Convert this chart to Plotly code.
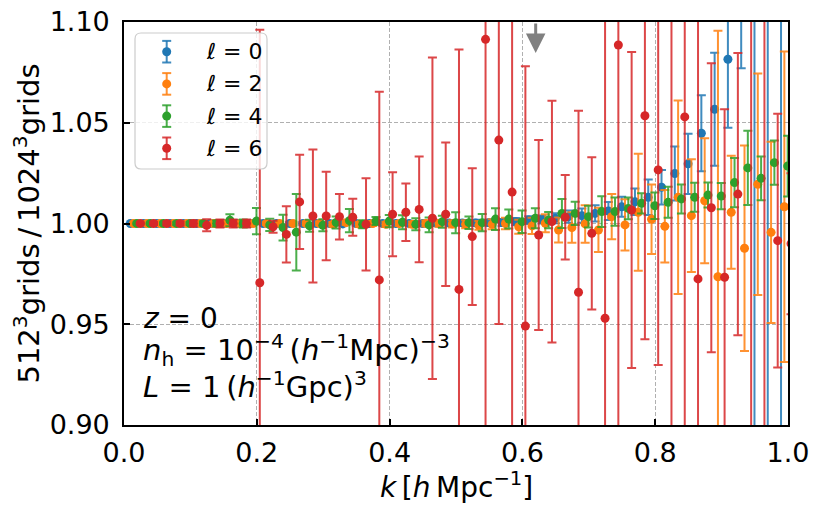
import plotly.graph_objects as go

# ---------------- data ----------------
# k-bin centres [h/Mpc]
k_bins = [0.01, 0.03, 0.05, 0.07, 0.09, 0.11, 0.13, 0.15, 0.17, 0.19,
          0.21, 0.23, 0.25, 0.27, 0.29, 0.31, 0.33, 0.35, 0.37, 0.39,
          0.41, 0.43, 0.45, 0.47, 0.49, 0.51, 0.53, 0.55, 0.57, 0.59,
          0.61, 0.63, 0.65, 0.67, 0.69, 0.71, 0.73, 0.75, 0.77, 0.79,
          0.81, 0.83, 0.85, 0.87, 0.89, 0.91, 0.93, 0.95, 0.97, 0.99]
# small horizontal dodge per multipole
k_shift = [-0.0005, 0.0045, 0.0095, 0.0145]
ells = [0, 2, 4, 6]

ratio_l0 = [1.0000, 1.0000, 1.0000, 1.0000, 1.0000, 1.0000, 1.0000, 1.0000, 1.0000, 1.0000,
            1.0000, 1.0000, 1.0000, 1.0000, 1.0000, 1.0000, 0.9998, 1.0000, 1.0000, 1.0000,
            1.0000, 1.0000, 1.0000, 1.0002, 1.0002, 1.0003, 1.0003, 1.0004, 1.0005, 1.0009,
            1.0017, 1.0020, 1.0026, 1.0034, 1.0039, 1.0050, 1.0062, 1.0083, 1.0108, 1.0130,
            1.0180, 1.0248, 1.0296, 1.0448, 1.0567, 1.0815, 1.1200, 1.1500, 0.8600, 1.1600]
err_l0 = [0.0003, 0.0003, 0.0003, 0.0004, 0.0004, 0.0004, 0.0005, 0.0005, 0.0005, 0.0006,
          0.0006, 0.0007, 0.0007, 0.0008, 0.0008, 0.0009, 0.0009, 0.0010, 0.0010, 0.0011,
          0.0011, 0.0012, 0.0012, 0.0013, 0.0013, 0.0014, 0.0015, 0.0016, 0.0017, 0.0018,
          0.0019, 0.0020, 0.0025, 0.0030, 0.0035, 0.0040, 0.0045, 0.0050, 0.0066, 0.0088,
          0.0086, 0.0134, 0.0150, 0.0189, 0.0281, 0.0340, 0.0430, 0.3000, 0.3000, 0.3500]

ratio_l2 = [1.0000, 1.0000, 1.0000, 1.0000, 1.0000, 1.0000, 1.0000, 1.0000, 1.0000, 1.0000,
            1.0000, 1.0000, 1.0000, 1.0000, 1.0000, 0.9996, 1.0004, 0.9996, 1.0000, 0.9996,
            1.0000, 0.9996, 1.0000, 1.0000, 0.9998, 0.9996, 0.9991, 0.9996, 1.0000, 0.9984,
            0.9988, 1.0001, 0.9968, 0.9980, 0.9998, 0.9968, 1.0034, 0.9993, 1.0056, 1.0021,
            0.9986, 1.0130, 1.0039, 1.0113, 0.9736, 1.0056, 0.9877, 1.0195, 0.9956, 1.0083]
err_l2 = [0.0004, 0.0004, 0.0005, 0.0005, 0.0005, 0.0006, 0.0006, 0.0007, 0.0007, 0.0008,
          0.0008, 0.0009, 0.0009, 0.0010, 0.0010, 0.0011, 0.0011, 0.0012, 0.0012, 0.0013,
          0.0013, 0.0014, 0.0015, 0.0016, 0.0018, 0.0020, 0.0022, 0.0025, 0.0028, 0.0035,
          0.0040, 0.0045, 0.0062, 0.0076, 0.0093, 0.0110, 0.0112, 0.0127, 0.0290, 0.0172,
          0.0180, 0.0480, 0.0280, 0.0310, 0.1220, 0.0280, 0.0510, 0.0550, 0.0450, 0.0770]

ratio_l4 = [1.0000, 1.0000, 1.0000, 1.0000, 1.0000, 1.0000, 1.0000, 1.0016, 1.0000, 1.0012,
            0.9993, 0.9980, 0.9957, 0.9989, 0.9991, 1.0005, 1.0014, 0.9996, 1.0012, 1.0012,
            1.0006, 0.9996, 0.9993, 1.0009, 1.0004, 1.0004, 1.0004, 1.0022, 1.0022, 1.0009,
            1.0026, 1.0017, 1.0050, 1.0050, 1.0034, 1.0059, 1.0059, 1.0075, 1.0100, 1.0088,
            1.0105, 1.0122, 1.0130, 1.0141, 1.0136, 1.0203, 1.0276, 1.0224, 1.0302, 1.0285]
err_l4 = [0.0005, 0.0005, 0.0006, 0.0007, 0.0008, 0.0010, 0.0015, 0.0030, 0.0020, 0.0065,
          0.0030, 0.0064, 0.0190, 0.0030, 0.0030, 0.0030, 0.0058, 0.0020, 0.0020, 0.0030,
          0.0035, 0.0030, 0.0037, 0.0030, 0.0052, 0.0031, 0.0043, 0.0054, 0.0047, 0.0056,
          0.0050, 0.0040, 0.0072, 0.0058, 0.0054, 0.0076, 0.0070, 0.0054, 0.0050, 0.0066,
          0.0077, 0.0072, 0.0072, 0.0062, 0.0065, 0.0122, 0.0184, 0.0109, 0.0110, 0.0151]

ratio_l6 = [1.0000, 1.0000, 1.0000, 1.0000, 1.0000, 0.9991, 1.0000, 1.0000, 1.0000, 0.9706,
            0.9984, 0.9946, 1.0107, 1.0037, 1.0037, 1.0034, 1.0031, 0.9996, 0.9720, 1.0046,
            1.0056, 1.0070, 1.0026, 1.0046, 0.9673, 0.9935, 1.0914, 1.0414, 1.0156, 0.9491,
            0.9943, 1.0009, 1.0031, 0.9659, 0.9951, 0.9530, 1.0886, 1.0067, 1.0535, 1.0266,
            1.1400, 1.0529, 0.9725, 1.0078, 0.9733, 1.0146, 0.8600, 1.1500, 0.9915, 0.9900]
err_l6 = [0.0005, 0.0008, 0.0010, 0.0010, 0.0015, 0.0030, 0.0020, 0.0020, 0.0020, 0.1255,
          0.0030, 0.0140, 0.0234, 0.0330, 0.0220, 0.0113, 0.0092, 0.0229, 0.0934, 0.0208,
          0.0143, 0.0262, 0.0798, 0.0356, 0.1190, 0.0339, 0.2100, 0.0913, 0.1400, 0.1290,
          0.0472, 0.0600, 0.0210, 0.0900, 0.0378, 0.1600, 0.2000, 0.0784, 0.1110, 0.0968,
          0.3000, 0.1700, 0.1400, 0.0717, 0.0834, 0.0700, 0.3000, 0.3000, 0.0630, 0.0350]

ratios = [ratio_l0, ratio_l2, ratio_l4, ratio_l6]
errors = [err_l0, err_l2, err_l4, err_l6]
colors = ["#1f77b4", "#ff7f0e", "#2ca02c", "#d62728"]
err_colors = ["rgba(31,119,180,0.85)", "rgba(255,127,14,0.85)",
              "rgba(44,160,44,0.85)", "rgba(214,39,40,0.85)"]

x_ticks = [0.0, 0.2, 0.4, 0.6, 0.8, 1.0]
x_ticklabels = ["0.0", "0.2", "0.4", "0.6", "0.8", "1.0"]
y_ticks = [0.90, 0.95, 1.00, 1.05, 1.10]
y_ticklabels = ["0.90", "0.95", "1.00", "1.05", "1.10"]
arrow_k = 0.62

FONT = "DejaVu Sans"

# page geometry (body has an 8px margin in the browser)
W, H = 814, 503
ML, MR, MT, MB = 116, 34, 14, 86
PW = W - ML - MR     # plot width in px
PH = H - MT - MB     # plot height in px
OFF = 8


def px2paper_x(px):
    return (px - OFF - ML) / PW


def px2paper_y(py):
    return 1 - (py - OFF - MT) / PH


fig = go.Figure()
for ell, shift, y, e, c, ec in zip(ells, k_shift, ratios, errors, colors, err_colors):
    fig.add_trace(go.Scatter(
        x=[kk + shift for kk in k_bins], y=y, mode="markers",
        name=f"ℓ = {ell}", showlegend=False,
        marker=dict(color=c, size=9, line=dict(width=0)),
        error_y=dict(type="data", array=e, visible=True, color=ec,
                     thickness=2, width=4.5),
        cliponaxis=True,
    ))

# ---- legend drawn as decoration (box, error-bar glyphs, markers, labels) ----
bx0, bx1 = px2paper_x(135), px2paper_x(267)
by1, by0 = px2paper_y(33), px2paper_y(169)
rx, ry = 6 / PW, 6 / PH
box_path = (f"M {bx0+rx},{by1} L {bx1-rx},{by1} Q {bx1},{by1} {bx1},{by1-ry} "
            f"L {bx1},{by0+ry} Q {bx1},{by0} {bx1-rx},{by0} L {bx0+rx},{by0} "
            f"Q {bx0},{by0} {bx0},{by0+ry} L {bx0},{by1-ry} Q {bx0},{by1} {bx0+rx},{by1} Z")
shapes = [dict(type="path", path=box_path, xref="paper", yref="paper",
               line=dict(color="#cccccc", width=1.2),
               fillcolor="rgba(255,255,255,0.8)", layer="above")]
annotations = []
gx = px2paper_x(166.7)
hw = 4.5 / PW
hh = 10.8 / PH
mr_x, mr_y = 4.5 / PW, 4.5 / PH
for i, (ell, c, ec) in enumerate(zip(ells, colors, err_colors)):
    cy = px2paper_y(51.7 + 32.2 * i)
    shapes.append(dict(type="line", xref="paper", yref="paper", x0=gx, x1=gx,
                       y0=cy - hh, y1=cy + hh, line=dict(color=ec, width=2), layer="above"))
    for s in (-1, 1):
        shapes.append(dict(type="line", xref="paper", yref="paper", x0=gx - hw, x1=gx + hw,
                           y0=cy + s * hh, y1=cy + s * hh, line=dict(color=ec, width=2),
                           layer="above"))
    shapes.append(dict(type="circle", xref="paper", yref="paper",
                       x0=gx - mr_x, x1=gx + mr_x, y0=cy - mr_y, y1=cy + mr_y,
                       fillcolor=c, line=dict(width=0), layer="above"))
    annotations.append(dict(x=px2paper_x(204), y=cy, xref="paper", yref="paper",
                            xanchor="left", yanchor="middle", showarrow=False,
                            text=f"ℓ = {ell}",
                            font=dict(family=FONT, size=22, color="black")))

text_font = dict(family=FONT, size=28, color="black")
annotations += [
    dict(x=px2paper_x(141), y=px2paper_y(318), xref="paper", yref="paper",
         xanchor="left", yanchor="middle", showarrow=False,
         text="<i>z</i> = 0", font=text_font),
    dict(x=px2paper_x(141), y=px2paper_y(350), xref="paper", yref="paper",
         xanchor="left", yanchor="middle", showarrow=False,
         text="<i>n</i><sub>h</sub> = 10<sup>−4</sup>\u2009(<i>h</i><sup>−1</sup>Mpc)<sup>−3</sup>",
         font=dict(family=FONT, size=29, color="black")),
    dict(x=px2paper_x(141), y=px2paper_y(385), xref="paper", yref="paper",
         xanchor="left", yanchor="middle", showarrow=False,
         text="<i>L</i> = 1\u2009(<i>h</i><sup>−1</sup>Gpc)<sup>3</sup>",
         font=dict(family=FONT, size=29, color="black")),
    dict(x=arrow_k, y=1.0846, xref="x", yref="y", ax=arrow_k, ay=1.10, axref="x", ayref="y",
         text="", showarrow=True, arrowhead=2, arrowsize=1.3, arrowwidth=3,
         arrowcolor="#808080", standoff=0),
    # x-axis title
    dict(x=0.5, y=px2paper_y(485), xref="paper", yref="paper",
         xanchor="center", yanchor="middle", showarrow=False,
         text="<i>k</i>\u2009[<i>h</i>\u2009Mpc<sup>−1</sup>]",
         font=dict(family=FONT, size=28, color="black")),
]

axis_common = dict(
    showline=True, linecolor="black", linewidth=1.6, mirror=True,
    ticks="inside", ticklen=6, tickwidth=1.5, tickcolor="black",
    showgrid=True, gridcolor="#b0b0b0", gridwidth=1, griddash="4px,2px",
    zeroline=False, automargin=False, ticklabeloverflow="allow",
    tickfont=dict(family=FONT, size=27, color="black"),
)

fig.update_layout(
    width=W, height=H,
    margin=dict(l=ML, r=MR, t=MT, b=MB),
    paper_bgcolor="white", plot_bgcolor="white",
    font=dict(family=FONT, color="black"),
    xaxis=dict(range=[0, 1], tickvals=x_ticks, ticktext=x_ticklabels,
               ticklabelstandoff=3, **axis_common),
    yaxis=dict(range=[0.90, 1.10], tickvals=y_ticks, ticktext=y_ticklabels,
               title=dict(text="512<sup>3</sup>grids\u2009/\u20091024<sup>3</sup>grids",
                          font=dict(family=FONT, size=29), standoff=8),
               ticklabelstandoff=7, **axis_common),
    showlegend=False,
    shapes=shapes,
    annotations=annotations,
)

fig.write_html("out.html")
